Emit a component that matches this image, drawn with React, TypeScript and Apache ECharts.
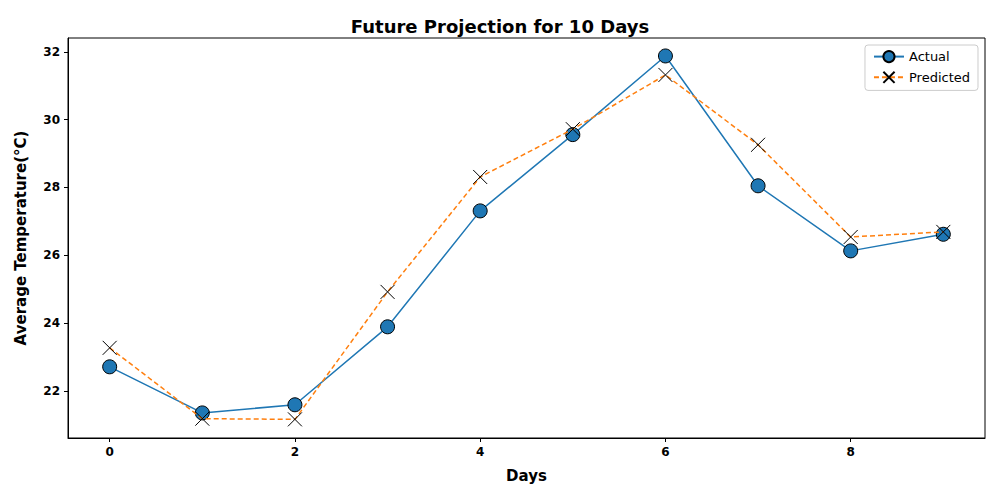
import * as echarts from "echarts";
import { useEffect, useRef } from "react";

const days = [0, 1, 2, 3, 4, 5, 6, 7, 8, 9];
const actual = [22.71, 21.35, 21.59, 23.89, 27.31, 29.56, 31.88, 28.05, 26.13, 26.62];
const predicted = [23.27, 21.18, 21.16, 24.92, 28.31, 29.72, 31.32, 29.26, 26.54, 26.69];
const xTicks = [0, 2, 4, 6, 8];
const yTicks = [22, 24, 26, 28, 30, 32];

const font = "DejaVu Sans";
const crossPath = "path://M0,0L10,10M10,0L0,10";

export default function App() {
	const chartRef = useRef<HTMLDivElement>(null);

	useEffect(() => {
		if (!chartRef.current) return;
		document.body.style.margin = "0";
		const chart = echarts.init(chartRef.current, null, { renderer: "svg" });
		chart.setOption({
			animation: false,
			textStyle: { fontFamily: font },
			title: {
				text: "Future Projection for 10 Days",
				left: "center",
				top: 12,
				textStyle: { fontSize: 18, fontWeight: "bold", color: "#000", fontFamily: font },
			},
			legend: {
				orient: "vertical",
				right: 22,
				top: 45,
				itemWidth: 30,
				itemHeight: 14,
				itemGap: 6,
				padding: [5, 8],
				borderColor: "#ccc",
				borderWidth: 1,
				borderRadius: 3,
				textStyle: { fontSize: 13, color: "#000", fontFamily: font },
				data: ["Actual", "Predicted"],
			},
			grid: {
				left: 68,
				right: 15,
				top: 38,
				bottom: 62,
				show: true,
				borderColor: "#000",
				borderWidth: 1,
			},
			xAxis: {
				type: "value",
				min: -0.45,
				max: 9.45,
				name: "Days",
				nameLocation: "middle",
				nameGap: 30,
				nameTextStyle: { fontSize: 15, fontWeight: "bold", color: "#000" },
				axisLine: { show: true, onZero: false, lineStyle: { color: "#000" } },
				axisTick: { show: true, customValues: xTicks, length: 4, lineStyle: { color: "#000" } },
				axisLabel: { customValues: xTicks, fontWeight: "bold", color: "#000", fontSize: 12 },
				splitLine: { show: false },
			},
			yAxis: {
				type: "value",
				min: 20.61,
				max: 32.41,
				name: "Average Temperature(°C)",
				nameLocation: "middle",
				nameGap: 40,
				nameTextStyle: { fontSize: 15, fontWeight: "bold", color: "#000" },
				axisLine: { show: true, onZero: false, lineStyle: { color: "#000" } },
				axisTick: { show: true, customValues: yTicks, length: 4, lineStyle: { color: "#000" } },
				axisLabel: { customValues: yTicks, fontWeight: "bold", color: "#000", fontSize: 12 },
				splitLine: { show: false },
			},
			series: [
				{
					name: "Actual",
					type: "line",
					data: days.map((d, i) => [d, actual[i]]),
					symbol: "circle",
					symbolSize: 14,
					lineStyle: { color: "#1f77b4", width: 1.5 },
					itemStyle: { color: "#1f77b4", borderColor: "#000", borderWidth: 1 },
					z: 2,
				},
				{
					name: "Predicted",
					type: "line",
					data: days.map((d, i) => [d, predicted[i]]),
					symbol: crossPath,
					symbolSize: 14,
					lineStyle: { color: "#ff7f0e", width: 1.5, type: [5, 3] },
					itemStyle: { color: "none", borderColor: "#000", borderWidth: 1 },
					z: 3,
				},
			],
		});
		return () => chart.dispose();
	}, []);

	return <div ref={chartRef} style={{ width: 1000, height: 500 }} />;
}
